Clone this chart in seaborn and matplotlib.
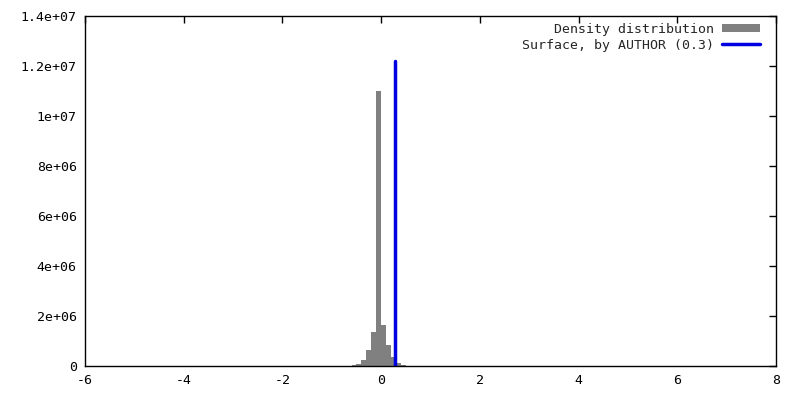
import numpy as np
import pandas as pd
import seaborn as sns
import matplotlib
matplotlib.use("Agg")
import matplotlib.pyplot as plt
from matplotlib.ticker import FuncFormatter

# Histogram (bin width 0.1)
bin_edges = [-0.6, -0.5, -0.4, -0.3, -0.2, -0.1, 0.0, 0.1, 0.2, 0.3, 0.4, 0.5]
bin_heights = [0.04e6, 0.1e6, 0.24e6, 0.64e6, 1.36e6, 11.0e6, 1.64e6, 0.84e6, 0.36e6, 0.12e6, 0.04e6]
surface_x = 0.29
surface_top = 1.22e7

x_ticks = [-6, -4, -2, 0, 2, 4, 6, 8]
y_ticks = [0, 2e6, 4e6, 6e6, 8e6, 1e7, 1.2e7, 1.4e7]

centers = [(a + b) / 2 for a, b in zip(bin_edges[:-1], bin_edges[1:])]
df = pd.DataFrame({"x": centers, "w": bin_heights})

sns.set_style("white")
plt.rcParams["font.family"] = ["DejaVu Sans Mono"]
plt.rcParams["axes.unicode_minus"] = False

fig = plt.figure(figsize=(8, 4), dpi=100)
ax = fig.add_axes([85 / 800, 34 / 400, 691 / 800, 350 / 400])

sns.histplot(data=df, x="x", weights="w", bins=bin_edges, color="#808080",
             alpha=1, edgecolor="none", linewidth=0, ax=ax)
ax.plot([surface_x, surface_x], [0, surface_top], color="#0000e0", lw=2.5)

ax.set_xlim(-6, 8)
ax.set_ylim(0, 1.4e7)
ax.set_xticks(x_ticks)
ax.set_yticks(y_ticks)
ax.yaxis.set_major_formatter(FuncFormatter(lambda v, p: "%g" % v))
ax.set_xlabel("")
ax.set_ylabel("")
ax.tick_params(direction="in", top=True, right=True, length=5, width=1,
               labelsize=9.5, colors="black", pad=6)
for s in ax.spines.values():
    s.set_color("black")
    s.set_linewidth(1)
    s.set_visible(True)

box = plt.Rectangle((0, 0), 1, 1, facecolor="#808080", edgecolor="none")
line = plt.Line2D([], [], color="#0000e0", lw=2.5)
ax.legend([box, line], ["Density distribution", "Surface, by AUTHOR (0.3)"],
          loc="upper right", bbox_to_anchor=(1 - 5 / 691, 1 + 4 / 350),
          frameon=False, markerfirst=False,
          fontsize=9.5, handlelength=2.9, handleheight=0.6,
          borderaxespad=0.4, labelspacing=0.25, handletextpad=0.6)

fig.savefig("out.png", dpi=100)
